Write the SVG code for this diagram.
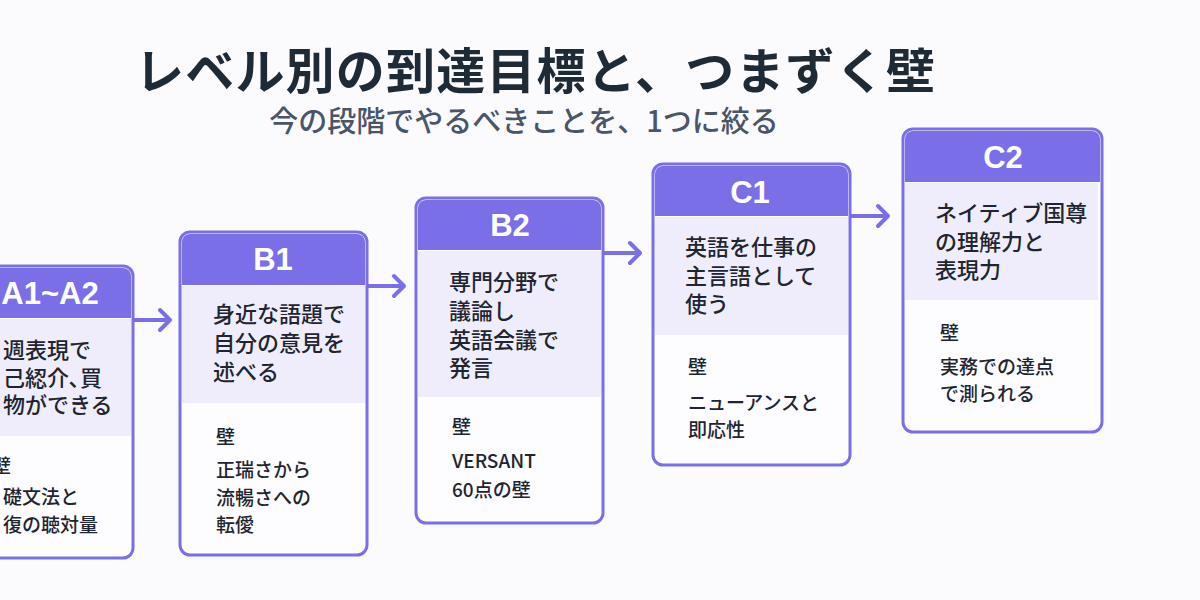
<svg xmlns="http://www.w3.org/2000/svg" width="1200" height="600" viewBox="0 0 1200 600">
<style>
.box{fill:#fdfdff;stroke:#7b6fe8;stroke-width:3}
.hd{fill:#7b6fe8}
.lt{fill:#efedfb}
.ht{font-family:"Liberation Sans","Noto Sans CJK JP",sans-serif;font-weight:bold;font-size:31px;fill:#fff;text-anchor:middle}
.g{font-family:"Noto Sans CJK JP",sans-serif;font-weight:500;font-size:22px;fill:#1f2530}
.w{font-family:"Noto Sans CJK JP",sans-serif;font-weight:500;font-size:19px;fill:#1f2530}
.ar{fill:none;stroke:#7b6fe8;stroke-width:4;stroke-linecap:round;stroke-linejoin:round}
</style>
<rect width="1200" height="600" fill="#fbfbfe"/>
<text x="135" y="89" font-family="Noto Sans CJK JP,sans-serif" font-weight="bold" font-size="49" fill="#1f2a37" textLength="800">レベル別の到達目標と、つまずく壁</text>
<text x="524" y="132" text-anchor="middle" font-family="Noto Sans CJK JP,sans-serif" font-weight="500" font-size="29" fill="#4a5568">今の段階でやるべきことを、1つに絞る</text>
<g id="connectors">
<path class="ar" d="M134 320H170M160 310L170 320L160 330"/>
<path class="ar" d="M368 286H404M394 276L404 286L394 296"/>
<path class="ar" d="M604 253H640M630 243L640 253L630 263"/>
<path class="ar" d="M851 216H888M878 206L888 216L878 226"/>
</g>
<g id="a">
<rect class="box" x="-70" y="266" width="203" height="292" rx="10"/>
<path class="hd" d="M-68 318V276a8 8 0 0 1 8-8H123a8 8 0 0 1 8 8V318Z"/>
<rect class="lt" x="-68" y="319" width="199" height="117"/>
<text class="ht" x="50" y="304">A1~A2</text>
<text class="g" x="3" y="358">週表現で</text>
<text class="g" x="3" y="386">己綛介､買</text>
<text class="g" x="3" y="413">物ができる</text>
<text class="w" x="-8" y="473">壁</text>
<text class="w" x="3" y="504">礎文法と</text>
<text class="w" x="3" y="532">復の聴対量</text>
</g>
<g id="b1">
<rect class="box" x="180" y="232" width="187" height="323" rx="10"/>
<path class="hd" d="M182 285V242a8 8 0 0 1 8-8H357a8 8 0 0 1 8 8V285Z"/>
<rect class="lt" x="182" y="286" width="183" height="117"/>
<text class="ht" x="273" y="270">B1</text>
<text class="g" x="213" y="322">身近な語題で</text>
<text class="g" x="213" y="351">自分の意見を</text>
<text class="g" x="213" y="380">述べる</text>
<text class="w" x="216" y="444">壁</text>
<text class="w" x="216" y="477">正瑞さから</text>
<text class="w" x="216" y="505">流暢さへの</text>
<text class="w" x="216" y="532">転僾</text>
</g>
<g id="b2">
<rect class="box" x="416" y="198" width="187" height="325" rx="10"/>
<path class="hd" d="M418 250V208a8 8 0 0 1 8-8H593a8 8 0 0 1 8 8V250Z"/>
<rect class="lt" x="418" y="251" width="183" height="146"/>
<text class="ht" x="510" y="236">B2</text>
<text class="g" x="449" y="290">専門分野で</text>
<text class="g" x="449" y="319">議論し</text>
<text class="g" x="449" y="348">英語会議で</text>
<text class="g" x="449" y="376">発言</text>
<text class="w" x="452" y="434">壁</text>
<text class="w" x="452" y="468">VERSANT</text>
<text class="w" x="452" y="497">60点の壁</text>
</g>
<g id="c1">
<rect class="box" x="653" y="164" width="197" height="301" rx="10"/>
<path class="hd" d="M655 216V174a8 8 0 0 1 8-8H840a8 8 0 0 1 8 8V216Z"/>
<rect class="lt" x="655" y="217" width="193" height="118"/>
<text class="ht" x="750" y="203">C1</text>
<text class="g" x="685" y="255">英語を仕事の</text>
<text class="g" x="685" y="284">主言語として</text>
<text class="g" x="685" y="312">使う</text>
<text class="w" x="688" y="374">壁</text>
<text class="w" x="688" y="410">ニューアンスと</text>
<text class="w" x="688" y="437">即応性</text>
</g>
<g id="c2">
<rect class="box" x="903" y="129" width="199" height="303" rx="10"/>
<path class="hd" d="M905 182V139a8 8 0 0 1 8-8H1092a8 8 0 0 1 8 8V182Z"/>
<rect class="lt" x="905" y="183" width="193" height="117"/>
<text class="ht" x="1003" y="168">C2</text>
<text class="g" x="935" y="221">ネイティブ国尊</text>
<text class="g" x="935" y="250">の理解力と</text>
<text class="g" x="935" y="278">表現力</text>
<text class="w" x="940" y="340">壁</text>
<text class="w" x="940" y="374">実務での達点</text>
<text class="w" x="940" y="401">で測られる</text>
</g>
</svg>
